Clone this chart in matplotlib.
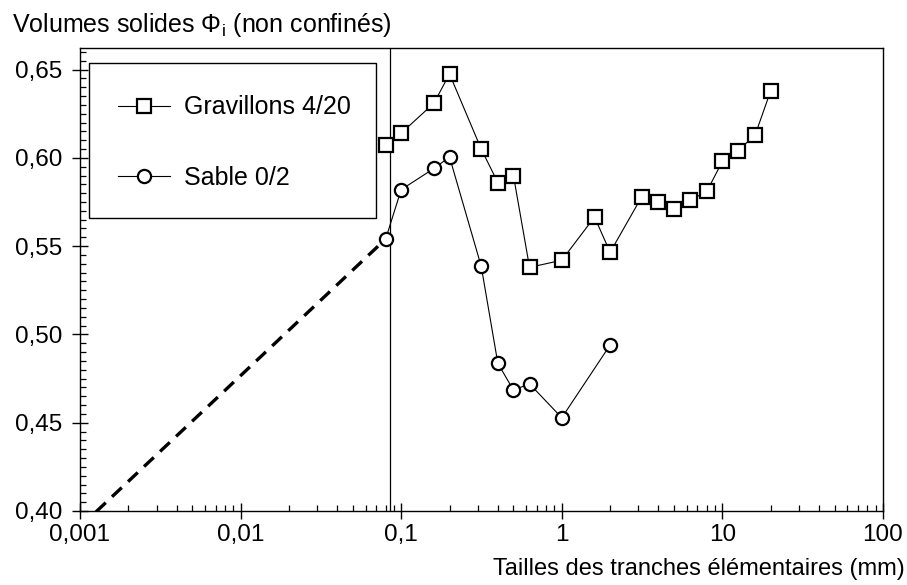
import matplotlib
matplotlib.use('Agg')
import matplotlib.pyplot as plt
import matplotlib.ticker as mticker
from matplotlib.patches import Rectangle
import numpy as np

plt.style.use('default')
matplotlib.rcParams.update({'font.size': 17})
matplotlib.rcParams['font.family'] = ['Liberation Sans', 'DejaVu Sans']
matplotlib.rcParams['mathtext.fontset'] = 'custom'
matplotlib.rcParams['mathtext.rm'] = 'Liberation Sans'
matplotlib.rcParams['mathtext.it'] = 'Liberation Sans:italic'

# tailles des tranches (mm) et volumes solides
sizes_grav = [0.08, 0.1, 0.16, 0.2, 0.315, 0.4, 0.5, 0.63, 1, 1.6, 2,
              3.15, 4, 5, 6.3, 8, 10, 12.5, 16, 20]
phi_grav = [0.607, 0.614, 0.631, 0.6475, 0.605, 0.586, 0.590, 0.538, 0.542, 0.5665, 0.5465,
            0.578, 0.575, 0.571, 0.576, 0.581, 0.598, 0.604, 0.613, 0.638]

sizes_sable = [0.08, 0.1, 0.16, 0.2, 0.315, 0.4, 0.5, 0.63, 1, 2]
phi_sable = [0.554, 0.582, 0.594, 0.6005, 0.5386, 0.4836, 0.4685, 0.472, 0.4528, 0.494]

# extrapolation en tirets vers les petites tailles
extrap_x = [0.001, 0.08]
extrap_y = [0.391, 0.554]
vline_x = 0.085

xticks = [0.001, 0.01, 0.1, 1, 10, 100]
xtick_labels = ["0,001", "0,01", "0,1", "1", "10", "100"]
yticks = [0.40, 0.45, 0.50, 0.55, 0.60, 0.65]
ytick_labels = ["0,40", "0,45", "0,50", "0,55", "0,60", "0,65"]

fig = plt.figure(figsize=(9.07, 5.85), dpi=100)
ax = fig.add_axes([0.0882, 0.1265, 0.8853, 0.7923])

ax.plot(sizes_grav, phi_grav, 'k-', lw=0.8, marker='s', ms=10.5, mfc='white', mec='black',
        mew=1.6, label="Gravillons 4/20", zorder=4)
ax.plot(sizes_sable, phi_sable, 'k-', lw=0.8, marker='o', ms=9.5, mfc='white', mec='black',
        mew=1.6, label="Sable 0/2", zorder=4)
ax.plot(extrap_x, extrap_y, 'k', lw=2.4, dashes=(4, 2.6), zorder=3)
ax.axvline(vline_x, color='black', lw=0.9, zorder=2)

ax.set_xscale('log')
ax.set_xlim(0.001, 100)
ax.set_ylim(0.40, 0.6625)
ax.set_xticks(xticks)
ax.set_xticklabels(xtick_labels)
ax.xaxis.set_minor_locator(mticker.LogLocator(base=10, subs=np.arange(2, 10)))
ax.xaxis.set_minor_formatter(mticker.NullFormatter())
ax.set_yticks(yticks)
ax.set_yticklabels(ytick_labels)
ax.yaxis.set_minor_locator(mticker.MultipleLocator(0.005))

ax.tick_params(which='major', direction='inout', length=11, width=1, labelsize=17.5)
ax.tick_params(axis='x', which='major', pad=4)
ax.tick_params(axis='y', which='major', pad=7)
ax.tick_params(which='minor', direction='in', length=4, width=0.9)
for s in ax.spines.values():
    s.set_linewidth(1.0)

# cadre de la légende
ax.add_patch(Rectangle((0.0112, 0.6322), 0.3574, 0.3344, transform=ax.transAxes,
                       fill=True, facecolor='white', edgecolor='black', lw=1.0, zorder=5))
leg = ax.legend(loc='center left', bbox_to_anchor=(0.0473, 0.795), frameon=False,
                fontsize=18, numpoints=1, handlelength=2.1, handletextpad=0.55,
                labelspacing=1.85, borderpad=0, borderaxespad=0)
leg.set_zorder(6)

fig.text(12 / 907, 1 - 32 / 585, r"Volumes solides $\Phi_\mathrm{i}$ (non confinés)",
         fontsize=18, ha='left', va='baseline')
fig.text(905 / 907, 1 - 575 / 585, "Tailles des tranches élémentaires (mm)",
         fontsize=17, ha='right', va='baseline')

plt.savefig("out.png", dpi=100)
plt.close()
